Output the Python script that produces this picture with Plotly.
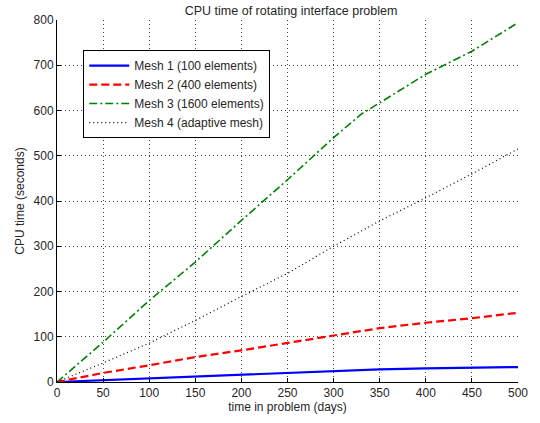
import plotly.graph_objects as go

days = [0, 50, 100, 150, 200, 250, 300, 330, 350, 400, 450, 500]
mesh1 = [0, 4, 9, 13, 17, 20, 24, 26, 28, 30, 32, 33]
mesh2 = [0, 20, 37, 55, 70, 86, 103, 112, 119, 131, 141, 153]
mesh3 = [0, 88, 180, 265, 357, 447, 540, 592, 617, 680, 731, 794]
mesh4 = [0, 42, 86, 136, 189, 240, 300, 333, 356, 407, 460, 515]

names = ["Mesh 1 (100 elements)", "Mesh 2 (400 elements)",
         "Mesh 3 (1600 elements)", "Mesh 4 (adaptive mesh)"]

FONT = "Liberation Sans, Arial, sans-serif"

fig = go.Figure()
fig.add_trace(go.Scatter(x=days, y=mesh1, mode="lines", name=names[0],
                         line=dict(color="#0000ff", width=2.2)))
fig.add_trace(go.Scatter(x=days, y=mesh2, mode="lines", name=names[1],
                         line=dict(color="#ff0000", width=2.2, dash="8px,4px")))
fig.add_trace(go.Scatter(x=days, y=mesh3, mode="lines", name=names[2],
                         line=dict(color="#008000", width=1.6, dash="8px,3px,2px,3px")))
fig.add_trace(go.Scatter(x=days, y=mesh4, mode="lines", name=names[3],
                         line=dict(color="#000000", width=1.2, dash="1px,3px")))

axis_common = dict(
    showline=True, linecolor="black", linewidth=1, mirror=False,
    ticks="inside", ticklen=4, tickcolor="black",
    showgrid=True, gridcolor="rgba(0,0,0,0.75)", griddash="1px,3px", gridwidth=1,
    zeroline=False,
    tickfont=dict(family=FONT, size=12, color="#262626"),
)

fig.update_layout(
    width=540, height=423,
    margin=dict(l=57, r=12, t=19.5, b=41.3),
    paper_bgcolor="white", plot_bgcolor="white",
    title=dict(text="CPU time of rotating interface problem",
               x=0.539, xanchor="center", yref="container", y=0.986, yanchor="top",
               font=dict(family=FONT, size=12.5, color="#262626")),
    xaxis=dict(range=[0, 500], tickmode="array",
               tickvals=[0, 50, 100, 150, 200, 250, 300, 350, 400, 450, 500],
               title=dict(text="time in problem (days)", standoff=2,
                          font=dict(family=FONT, size=12, color="#262626")),
               **axis_common),
    yaxis=dict(range=[0, 800], tickmode="array",
               tickvals=[0, 100, 200, 300, 400, 500, 600, 700, 800],
               title=dict(text="CPU time (seconds)", standoff=6,
                          font=dict(family=FONT, size=12, color="#262626")),
               **axis_common),
    legend=dict(x=0.057, y=0.917, xanchor="left", yanchor="top",
                bgcolor="white", bordercolor="black", borderwidth=1,
                font=dict(family=FONT, size=12, color="#262626"),
                tracegroupgap=0, itemwidth=40),
    showlegend=True,
)

fig.write_html("out.html")
